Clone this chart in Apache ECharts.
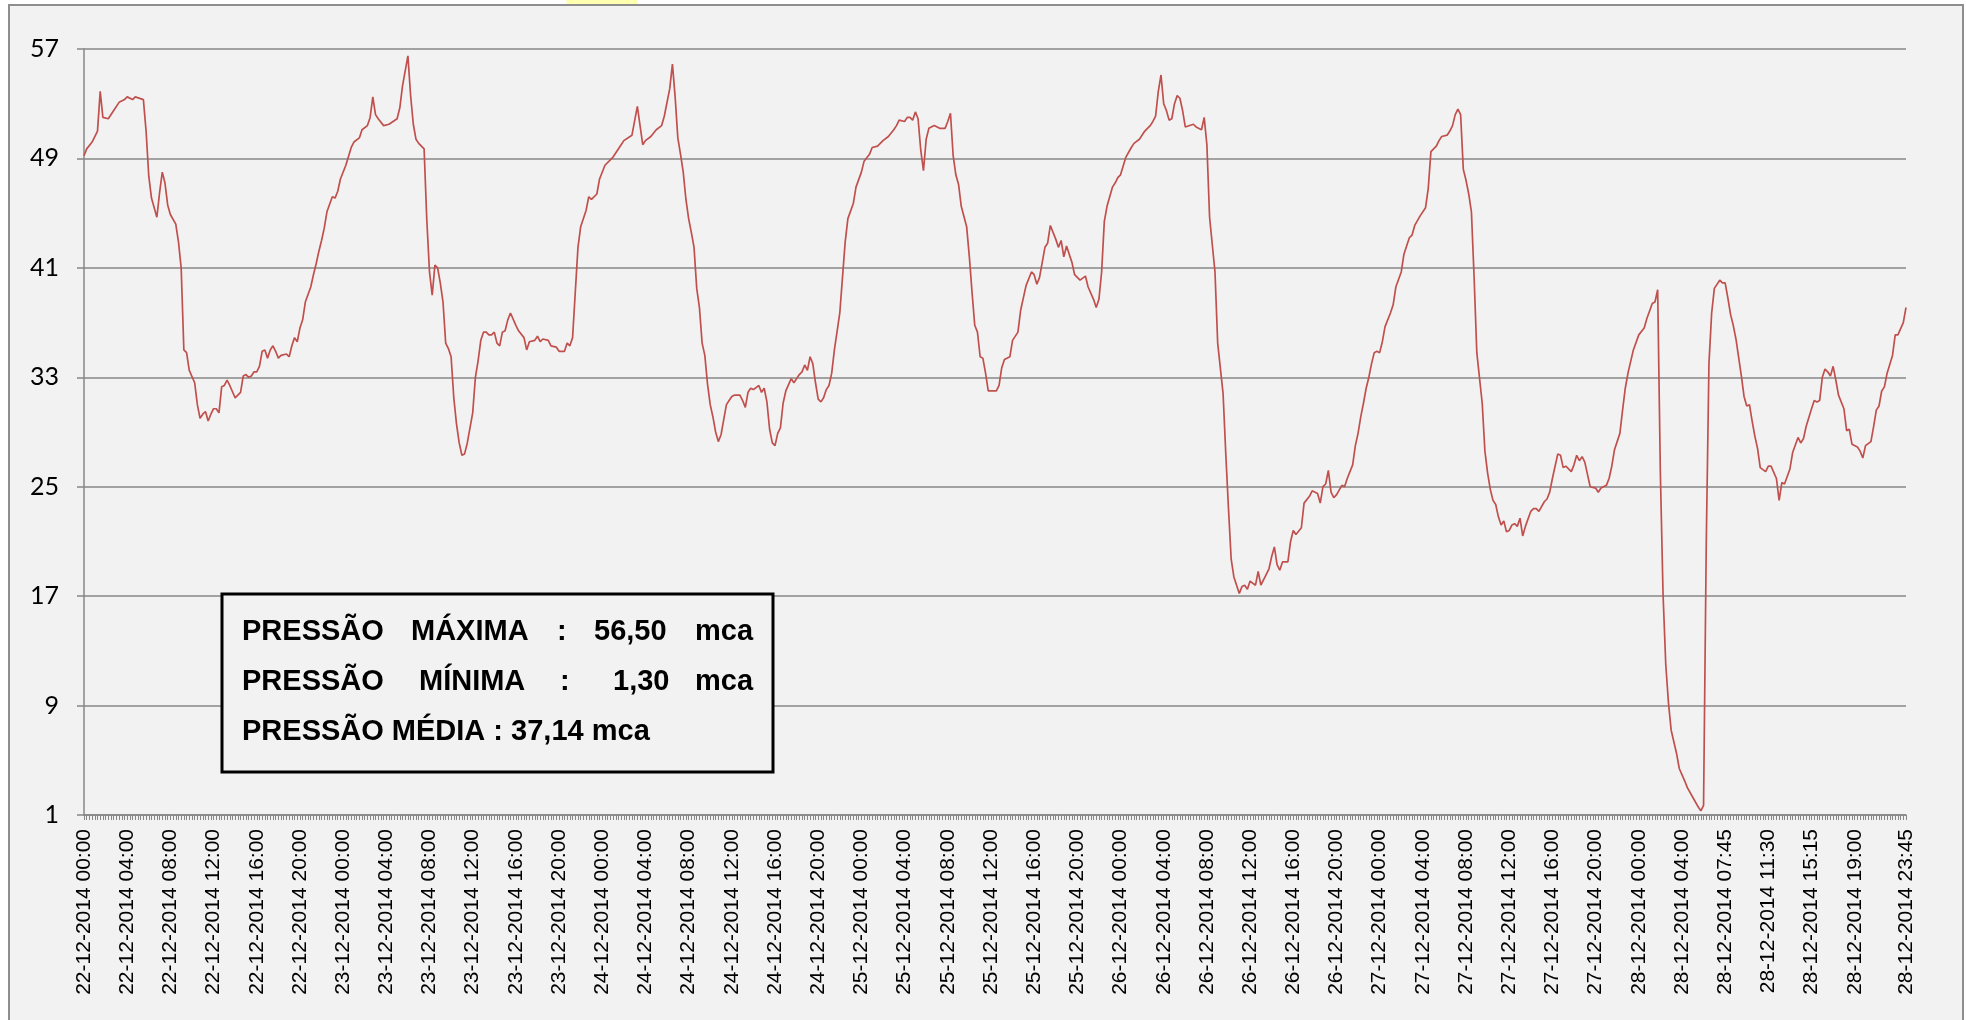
<!DOCTYPE html>
<html>
<head>
<meta charset="utf-8">
<title>Pressão 22-12-2014 a 28-12-2014</title>
<script src="https://cdn.jsdelivr.net/npm/echarts@6/dist/echarts.min.js"></script>
<style>
  html, body { margin: 0; padding: 0; background: #fff; }
  #chart { width: 1966px; height: 1020px; }
</style>
</head>
<body>
<div id="chart"></div>
<script>
// one reading every 15 min, [reading index, pressure in mca]
const dia22 = [[0,49.2],[1,49.7],[3,50.2],[5,51.0],[6,53.9],[7,52.0],[9,51.9],[11,52.5],[13,53.1],[15,53.3],[16,53.5],[18,53.3],[19,53.5],[22,53.3],[23,51.0],[24,47.7],[25,46.1],[27,44.7],[28,46.5],[29,48.0],[30,47.2],[31,45.6],[32,44.9],[34,44.2],[35,42.9],[36,41.0],[37,35.0],[38,34.8],[39,33.5],[41,32.6],[42,31.0],[43,30.0],[44,30.3],[45,30.5],[46,29.8],[47,30.3],[48,30.7],[49,30.7],[50,30.4],[51,32.3],[52,32.4],[53,32.8],[54,32.4],[56,31.5],[58,31.9],[59,33.1],[60,33.2],[61,33.0],[62,33.1],[63,33.4],[64,33.4],[65,33.8],[66,34.9],[67,35.0],[68,34.4],[69,35.0],[70,35.3],[71,34.9],[72,34.4],[73,34.6],[75,34.7],[76,34.5],[77,35.3],[78,35.9],[79,35.6],[80,36.6],[81,37.2],[82,38.5],[84,39.6],[85,40.5],[86,41.3],[87,42.2],[88,43.0],[89,43.9],[90,45.1],[92,46.2],[93,46.1],[94,46.6],[95,47.5]];
const dia23 = [[97,48.5],[99,49.8],[100,50.2],[102,50.5],[103,51.1],[105,51.4],[106,52.0],[107,53.5],[108,52.2],[109,51.9],[111,51.4],[113,51.5],[116,51.9],[117,52.7],[118,54.3],[120,56.5],[121,53.6],[122,51.5],[123,50.4],[124,50.1],[126,49.7],[127,44.5],[128,40.7],[129,39.0],[130,41.2],[131,41.0],[132,39.9],[133,38.5],[134,35.5],[135,35.1],[136,34.5],[137,31.5],[138,29.6],[139,28.2],[140,27.3],[141,27.4],[142,28.2],[144,30.4],[145,33.0],[146,34.2],[147,35.7],[148,36.3],[149,36.3],[150,36.1],[151,36.1],[152,36.3],[153,35.5],[154,35.3],[155,36.3],[156,36.4],[157,37.2],[158,37.7],[160,36.8],[161,36.4],[163,35.9],[164,35.0],[165,35.6],[167,35.7],[168,36.0],[169,35.6],[170,35.8],[172,35.7],[173,35.3],[175,35.2],[176,34.9],[178,34.9],[179,35.5],[180,35.3],[181,35.9],[182,39.2],[183,42.5],[184,44.0],[186,45.2],[187,46.2],[188,46.0],[190,46.4],[191,47.5]];
const dia24 = [[193,48.5],[196,49.1],[199,50.0],[200,50.3],[203,50.7],[205,52.8],[207,50.0],[208,50.3],[210,50.6],[212,51.1],[214,51.4],[215,52.1],[217,54.1],[218,55.9],[219,53.5],[220,50.5],[221,49.3],[222,48.0],[223,46.0],[224,44.6],[225,43.6],[226,42.5],[227,39.5],[228,38.1],[229,35.5],[230,34.6],[231,32.5],[232,31.0],[233,30.1],[234,29.0],[235,28.3],[236,28.8],[237,29.9],[238,31.0],[239,31.3],[240,31.6],[241,31.7],[243,31.7],[244,31.3],[245,30.8],[246,31.9],[247,32.2],[248,32.1],[250,32.4],[251,31.9],[252,32.2],[253,31.2],[254,29.2],[255,28.2],[256,28.0],[257,28.9],[258,29.3],[259,31.1],[260,32.0],[262,32.9],[263,32.6],[264,32.9],[265,33.2],[266,33.4],[267,33.9],[268,33.5],[269,34.5],[270,34.0],[271,32.6],[272,31.4],[273,31.2],[274,31.5],[275,32.1],[276,32.4],[277,33.3],[278,35.0],[280,37.7],[281,40.3],[282,42.9],[283,44.6],[285,45.7],[286,46.9]];
const dia25 = [[288,48.0],[289,48.8],[291,49.3],[292,49.8],[294,49.9],[296,50.3],[298,50.6],[300,51.1],[301,51.4],[302,51.8],[304,51.7],[305,52.0],[306,52.0],[307,51.8],[308,52.4],[309,51.9],[310,49.6],[311,48.1],[312,50.4],[313,51.2],[315,51.4],[317,51.2],[319,51.2],[320,51.7],[321,52.3],[322,49.2],[323,47.8],[324,47.1],[325,45.5],[327,44.0],[328,41.8],[329,39.2],[330,36.8],[331,36.3],[332,34.5],[333,34.4],[334,33.3],[335,32.0],[338,32.0],[339,32.4],[340,33.7],[341,34.3],[343,34.5],[344,35.7],[346,36.3],[347,37.9],[349,39.7],[351,40.7],[352,40.5],[353,39.8],[354,40.3],[356,42.5],[357,42.8],[358,44.1],[360,43.1],[361,42.5],[362,43.0],[363,41.8],[364,42.6],[366,41.4],[367,40.5],[369,40.1],[371,40.4],[372,39.6],[374,38.7],[375,38.1],[376,38.7],[377,40.7],[378,44.4],[379,45.5],[381,46.9],[382,47.2],[383,47.6]];
const dia26 = [[384,47.8],[386,49.1],[388,49.8],[389,50.1],[391,50.4],[393,51.0],[395,51.4],[396,51.7],[397,52.1],[398,53.9],[399,55.1],[400,53.0],[401,52.5],[402,51.8],[403,51.9],[404,53.0],[405,53.6],[406,53.4],[407,52.5],[408,51.3],[411,51.5],[412,51.3],[414,51.1],[415,52.0],[416,50.0],[417,44.7],[419,40.7],[420,35.5],[422,31.8],[423,27.4],[424,23.4],[425,19.7],[426,18.4],[428,17.2],[429,17.7],[430,17.8],[431,17.5],[432,18.1],[434,17.8],[435,18.8],[436,17.8],[438,18.6],[439,19.0],[440,19.9],[441,20.6],[442,19.3],[443,18.9],[444,19.5],[446,19.5],[447,21.0],[448,21.8],[449,21.5],[451,22.0],[452,23.8],[454,24.3],[455,24.7],[457,24.5],[458,23.8],[459,25.0],[460,25.2],[461,26.2],[462,24.6],[463,24.2],[464,24.4],[466,25.1],[467,25.0],[468,25.6],[470,26.6],[471,28.0],[472,28.9],[473,30.1],[474,31.1],[475,32.2],[476,33.0],[477,34.0],[478,34.8],[479,34.9]];
const dia27 = [[480,34.8],[481,35.6],[482,36.7],[484,37.7],[485,38.3],[486,39.6],[488,40.7],[489,42.0],[491,43.2],[492,43.4],[493,44.1],[495,44.8],[497,45.4],[498,46.8],[499,49.5],[501,49.9],[502,50.3],[503,50.6],[505,50.7],[506,51.0],[507,51.4],[508,52.2],[509,52.6],[510,52.2],[511,48.2],[512,47.4],[513,46.4],[514,45.1],[515,40.3],[516,34.8],[518,31.1],[519,27.6],[520,26.0],[521,24.8],[522,24.0],[523,23.7],[524,22.8],[525,22.2],[526,22.5],[527,21.7],[528,21.8],[529,22.2],[530,22.3],[531,22.1],[532,22.7],[533,21.4],[534,22.1],[536,23.2],[537,23.4],[538,23.4],[539,23.2],[541,23.9],[542,24.1],[543,24.6],[544,25.6],[546,27.4],[547,27.3],[548,26.4],[549,26.5],[551,26.1],[552,26.6],[553,27.3],[554,26.9],[555,27.2],[556,26.8],[557,25.9],[558,25.0],[560,24.9],[561,24.6],[562,24.9],[564,25.1],[565,25.6],[566,26.5],[567,27.7],[569,28.9],[570,30.6],[571,32.2],[572,33.3],[574,35.0]];
const dia28 = [[576,36.1],[578,36.6],[579,37.3],[581,38.4],[582,38.5],[583,39.4],[584,26.0],[585,17.1],[586,12.0],[587,9.2],[588,7.2],[590,5.5],[591,4.4],[593,3.5],[594,3.0],[596,2.3],[598,1.6],[599,1.3],[600,1.7],[601,20.8],[602,34.0],[603,37.7],[604,39.5],[606,40.1],[607,39.9],[608,39.9],[609,38.8],[610,37.6],[611,36.8],[612,35.8],[614,33.1],[615,31.6],[616,30.9],[617,31.0],[618,29.8],[619,28.7],[620,27.8],[621,26.4],[623,26.1],[624,26.5],[625,26.5],[627,25.6],[628,24.0],[629,25.3],[630,25.2],[632,26.3],[633,27.5],[635,28.6],[636,28.2],[637,28.5],[638,29.4],[640,30.7],[641,31.3],[642,31.2],[643,31.3],[644,33.0],[645,33.6],[646,33.4],[647,33.1],[648,33.8],[649,32.8],[650,31.7],[652,30.7],[653,29.1],[654,29.2],[655,28.1],[657,27.9],[658,27.6],[659,27.1],[660,28.0],[662,28.3],[663,29.4],[664,30.6],[665,30.9],[666,32.0],[667,32.3],[668,33.3],[670,34.6],[671,36.1],[672,36.1],[674,37.0],[675,38.1]];

const totalReadings = 676;
const labelStep = 16;

const tickLabels = [
  '22-12-2014 00:00', '22-12-2014 04:00', '22-12-2014 08:00', '22-12-2014 12:00', '22-12-2014 16:00', '22-12-2014 20:00',
  '23-12-2014 00:00', '23-12-2014 04:00', '23-12-2014 08:00', '23-12-2014 12:00', '23-12-2014 16:00', '23-12-2014 20:00',
  '24-12-2014 00:00', '24-12-2014 04:00', '24-12-2014 08:00', '24-12-2014 12:00', '24-12-2014 16:00', '24-12-2014 20:00',
  '25-12-2014 00:00', '25-12-2014 04:00', '25-12-2014 08:00', '25-12-2014 12:00', '25-12-2014 16:00', '25-12-2014 20:00',
  '26-12-2014 00:00', '26-12-2014 04:00', '26-12-2014 08:00', '26-12-2014 12:00', '26-12-2014 16:00', '26-12-2014 20:00',
  '27-12-2014 00:00', '27-12-2014 04:00', '27-12-2014 08:00', '27-12-2014 12:00', '27-12-2014 16:00', '27-12-2014 20:00',
  '28-12-2014 00:00', '28-12-2014 04:00', '28-12-2014 07:45', '28-12-2014 11:30', '28-12-2014 15:15', '28-12-2014 19:00',
  '28-12-2014 23:45',
];

const yTicks = [1, 9, 17, 25, 33, 41, 49, 57];

const resumo = [
  ['PRESSÃO', 'MÁXIMA', ':', '56,50', 'mca'],
  ['PRESSÃO', 'MÍNIMA', ':', '1,30', 'mca'],
  ['PRESSÃO MÉDIA : 37,14 mca'],
];

// label at every 16th reading, the last one on the final reading
const labelAt = new Map();
tickLabels.forEach((txt, i) => {
  labelAt.set(i === tickLabels.length - 1 ? totalReadings - 1 : i * labelStep, txt);
});
const categories = Array.from({ length: totalReadings }, (_, i) => String(i));
const pressao = [].concat(dia22, dia23, dia24, dia25, dia26, dia27, dia28);

const gray = '#878787';
const wordX = [
  [242, 411, 557, 594, 695],
  [242, 419, 560, 613, 695],
  [242],
];
const boxText = [];
resumo.forEach((words, row) => {
  words.forEach((w, k) => {
    boxText.push({
      type: 'text',
      z: 101,
      style: {
        text: w,
        x: wordX[row][k],
        y: 632 + row * 50,
        verticalAlign: 'middle',
        font: 'bold 29px "Liberation Sans", Arial, sans-serif',
        fill: '#000',
      },
    });
  });
});

const chart = echarts.init(document.getElementById('chart'));
chart.setOption({
  animation: false,
  backgroundColor: '#fff',
  grid: { left: 84, right: 60, top: 49, bottom: 205, containLabel: false },
  xAxis: {
    type: 'category',
    data: categories,
    boundaryGap: false,
    axisLine: { lineStyle: { color: gray, width: 1.5 } },
    axisTick: { show: true, interval: 0, length: 5, lineStyle: { color: gray, width: 1 } },
    axisLabel: {
      interval: (idx) => labelAt.has(idx),
      formatter: (v, idx) => labelAt.get(idx) || '',
      rotate: 90,
      margin: 14,
      fontFamily: '"Liberation Sans", Arial, sans-serif',
      fontSize: 21,
      color: '#000',
    },
    splitLine: { show: false },
  },
  yAxis: {
    type: 'value',
    min: 1,
    max: 57,
    axisLine: { show: true, lineStyle: { color: gray, width: 1.5 } },
    axisTick: { show: true, length: 7, customValues: yTicks, lineStyle: { color: gray, width: 1.5 } },
    axisLabel: {
      customValues: yTicks,
      margin: 25,
      fontFamily: 'Lato, "Open Sans", sans-serif',
      fontSize: 25,
      color: '#000',
    },
    splitLine: { show: true, lineStyle: { color: gray, width: 1.5 } },
  },
  series: [{
    name: 'Pressão',
    type: 'line',
    data: pressao,
    symbol: 'none',
    showSymbol: false,
    lineStyle: { color: '#c0504d', width: 1.7 },
    z: 5,
  }],
  graphic: [
    {
      type: 'rect',
      z: -10,
      silent: true,
      shape: { x: 9, y: 5, width: 1954, height: 1040 },
      style: { fill: '#f2f2f2', stroke: '#8e8e8e', lineWidth: 2 },
    },
    {
      type: 'rect',
      z: -11,
      silent: true,
      shape: { x: 566, y: -8, width: 72, height: 15, r: 7 },
      style: { fill: '#ffffb0' },
    },
    {
      type: 'rect',
      z: 100,
      shape: { x: 222, y: 594, width: 551, height: 178 },
      style: { fill: '#f2f2f2', stroke: '#000', lineWidth: 3 },
    },
  ].concat(boxText),
});
window.onresize = () => chart.resize();
</script>
</body>
</html>
